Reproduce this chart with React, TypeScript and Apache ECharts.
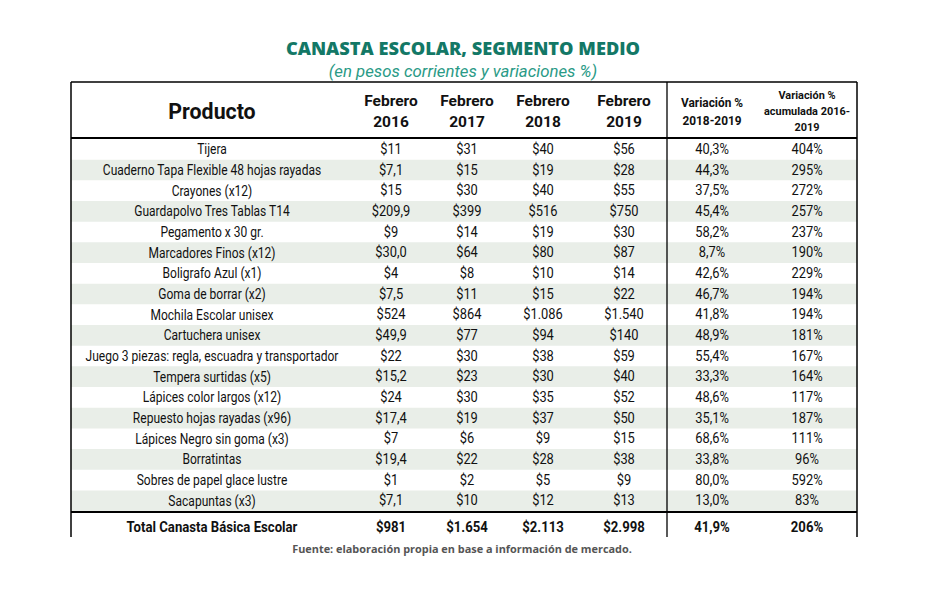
import React, { useEffect, useRef } from "react";
import * as echarts from "echarts";

// ---- Data ----
const products = [
  "Tijera",
  "Cuaderno Tapa Flexible 48 hojas rayadas",
  "Crayones (x12)",
  "Guardapolvo Tres Tablas T14",
  "Pegamento x 30 gr.",
  "Marcadores Finos (x12)",
  "Boligrafo Azul (x1)",
  "Goma de borrar (x2)",
  "Mochila Escolar unisex",
  "Cartuchera unisex",
  "Juego 3 piezas: regla, escuadra y transportador",
  "Tempera surtidas (x5)",
  "Lápices color largos (x12)",
  "Repuesto hojas rayadas (x96)",
  "Lápices Negro sin goma (x3)",
  "Borratintas",
  "Sobres de papel glace lustre",
  "Sacapuntas (x3)",
];
const feb2016 = ["$11", "$7,1", "$15", "$209,9", "$9", "$30,0", "$4", "$7,5", "$524", "$49,9", "$22", "$15,2", "$24", "$17,4", "$7", "$19,4", "$1", "$7,1"];
const feb2017 = ["$31", "$15", "$30", "$399", "$14", "$64", "$8", "$11", "$864", "$77", "$30", "$23", "$30", "$19", "$6", "$22", "$2", "$10"];
const feb2018 = ["$40", "$19", "$40", "$516", "$19", "$80", "$10", "$15", "$1.086", "$94", "$38", "$30", "$35", "$37", "$9", "$28", "$5", "$12"];
const feb2019 = ["$56", "$28", "$55", "$750", "$30", "$87", "$14", "$22", "$1.540", "$140", "$59", "$40", "$52", "$50", "$15", "$38", "$9", "$13"];
const var1819 = ["40,3%", "44,3%", "37,5%", "45,4%", "58,2%", "8,7%", "42,6%", "46,7%", "41,8%", "48,9%", "55,4%", "33,3%", "48,6%", "35,1%", "68,6%", "33,8%", "80,0%", "13,0%"];
const varAcum = ["404%", "295%", "272%", "257%", "237%", "190%", "229%", "194%", "194%", "181%", "167%", "164%", "117%", "187%", "111%", "96%", "592%", "83%"];
const totalRow = ["Total Canasta Básica Escolar", "$981", "$1.654", "$2.113", "$2.998", "41,9%", "206%"];
const headers = [
  "Producto",
  "Febrero\n2016",
  "Febrero\n2017",
  "Febrero\n2018",
  "Febrero\n2019",
  "Variación %\n2018-2019",
  "Variación %\nacumulada 2016-\n2019",
];
const titleText = "CANASTA ESCOLAR, SEGMENTO MEDIO";
const subtitleText = "(en pesos corrientes y variaciones %)";
const sourceText = "Fuente: elaboración propia en base a información de mercado.";

// ---- Layout (grid units = pixels inside table area) ----
const TABLE_W = 786;
const TABLE_H = 455;
const colCenters = [141, 320, 396, 472, 553, 641, 736];
const dividerX = 596;
const HEADER_H = 56;
const ROW_TOP = 57;
const ROW_H = 20.67;
const TOTAL_LINE = 430;
const TOTAL_CENTER = 445;

const FONT = "Roboto, 'Noto Sans', sans-serif";

type Cell = { x: number; y: number; text: string; size: number; bold: boolean; scale: number; lh?: number };

function buildCells(): Cell[] {
  const cells: Cell[] = [];
  // header
  headers.forEach((h, c) => {
    let size = 15.5, lh = 21, y = 29.5, scale = 1;
    if (c === 0) { size = 22; lh = 24; y = 29; scale = 0.97; }
    if (c === 5) { size = 12.5; lh = 18; y = 30; scale = 0.95; }
    if (c === 6) { size = 11.5; lh = 16; y = 29; scale = 0.95; }
    cells.push({ x: colCenters[c], y, text: h, size, bold: true, scale, lh });
  });
  const cols = [products, feb2016, feb2017, feb2018, feb2019, var1819, varAcum];
  products.forEach((_, r) => {
    cols.forEach((arr, c) => {
      cells.push({
        x: colCenters[c],
        y: ROW_TOP + (r + 0.5) * ROW_H,
        text: arr[r],
        size: 14,
        bold: false,
        scale: c === 0 ? 0.86 : 0.92,
      });
    });
  });
  totalRow.forEach((t, c) => {
    cells.push({ x: colCenters[c], y: TOTAL_CENTER, text: t, size: 14, bold: true, scale: c === 0 ? 0.94 : 0.94 });
  });
  return cells;
}

export default function App() {
  const ref = useRef<HTMLDivElement>(null);
  useEffect(() => {
    if (!ref.current) return;
    const chart = echarts.init(ref.current, undefined, { renderer: "svg" });
    const cells = buildCells();
    const lines = [
      { x1: 0, y1: 0, x2: TABLE_W, y2: 0, w: 1.3 },
      { x1: 0, y1: HEADER_H, x2: TABLE_W, y2: HEADER_H, w: 2 },
      { x1: 0, y1: TOTAL_LINE, x2: TABLE_W, y2: TOTAL_LINE, w: 2 },
      { x1: 0, y1: 0, x2: 0, y2: TABLE_H, w: 1.5 },
      { x1: TABLE_W, y1: 0, x2: TABLE_W, y2: TABLE_H, w: 1.5 },
      { x1: dividerX, y1: 0, x2: dividerX, y2: TABLE_H, w: 1.3 },
    ];
    const option: any = {
      animation: false,
      backgroundColor: "#ffffff",
      grid: { left: 71, top: 82, width: TABLE_W, height: TABLE_H, containLabel: false },
      xAxis: { type: "value", min: 0, max: TABLE_W, show: false },
      yAxis: { type: "value", min: 0, max: TABLE_H, inverse: true, show: false },
      graphic: [
        {
          type: "text", x: 463, y: 48,
          style: { text: titleText, fill: "#137866", font: "800 18.2px 'Open Sans', sans-serif", align: "center", verticalAlign: "middle" },
        },
        {
          type: "text", x: 463, y: 71,
          style: { text: subtitleText, fill: "#2a9a86", font: "italic 16.8px Roboto, sans-serif", align: "center", verticalAlign: "middle" },
        },
        {
          type: "text", x: 462, y: 548,
          style: { text: sourceText, fill: "#555555", font: "bold 10.9px 'Open Sans', sans-serif", align: "center", verticalAlign: "middle" },
        },
      ],
      series: [
        {
          type: "custom",
          silent: true,
          data: products.map((_, r) => [r]),
          renderItem: (params: any, api: any) => {
            const r = api.value(0);
            if (r % 2 === 0) return null;
            const p1 = api.coord([0, ROW_TOP + r * ROW_H]);
            const p2 = api.coord([TABLE_W, ROW_TOP + (r + 1) * ROW_H]);
            return { type: "rect", shape: { x: p1[0], y: p1[1], width: p2[0] - p1[0], height: p2[1] - p1[1] }, style: { fill: "#e9eee8" } };
          },
          z: 1,
        },
        {
          type: "custom",
          silent: true,
          data: lines.map((l) => [l.x1, l.y1, l.x2, l.y2, l.w]),
          renderItem: (params: any, api: any) => {
            const a = api.coord([api.value(0), api.value(1)]);
            const b = api.coord([api.value(2), api.value(3)]);
            return { type: "line", shape: { x1: a[0], y1: a[1], x2: b[0], y2: b[1] }, style: { stroke: "#000", lineWidth: api.value(4) } };
          },
          z: 3,
        },
        {
          type: "custom",
          silent: true,
          data: cells.map((c) => [c.x, c.y]),
          renderItem: (params: any, api: any) => {
            const c = cells[params.dataIndex];
            const p = api.coord([api.value(0), api.value(1)]);
            return {
              type: "text",
              x: p[0], y: p[1],
              scaleX: c.scale,
              style: {
                text: c.text,
                fill: "#111111",
                fontFamily: FONT,
                fontSize: c.size,
                fontWeight: c.bold ? "bold" : "normal",
                lineHeight: c.lh,
                align: "center",
                verticalAlign: "middle",
              },
            };
          },
          z: 4,
        },
      ],
    };
    chart.setOption(option);
    return () => chart.dispose();
  }, []);
  return <div ref={ref} style={{ position: "fixed", left: 0, top: 0, width: 939, height: 596 }} />;
}
